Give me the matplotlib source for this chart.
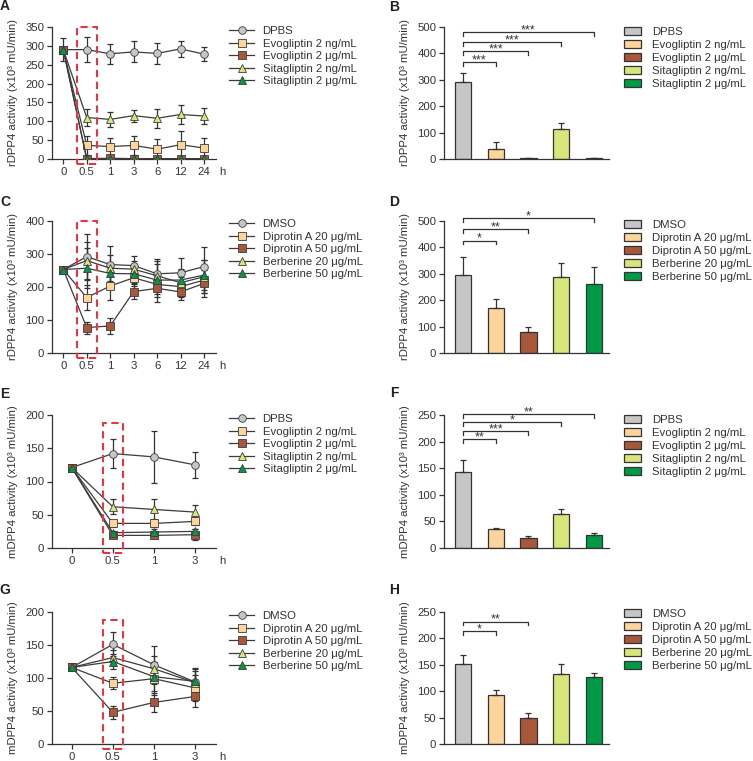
import matplotlib
matplotlib.use('Agg')
import matplotlib.pyplot as plt
from matplotlib.patches import Rectangle

plt.rcParams['font.family'] = ['Liberation Sans', 'DejaVu Sans']
plt.rcParams['font.size'] = 8

# ---- data ----
time_long = ['0', '0.5', '1', '3', '6', '12', '24']
time_short = ['0', '0.5', '1', '3']

inhib_labels = ['DPBS', 'Evogliptin 2 ng/mL', 'Evogliptin 2 μg/mL',
                'Sitagliptin 2 ng/mL', 'Sitagliptin 2 μg/mL']
nat_labels = ['DMSO', 'Diprotin A 20 μg/mL', 'Diprotin A 50 μg/mL',
              'Berberine 20 μg/mL', 'Berberine 50 μg/mL']

# A: rDPP4, inhibitors over 24 h
a_means = [[290, 290, 279, 284, 280, 292, 278],
           [290, 36, 33, 36, 26, 38, 29],
           [290, 1, 2, 1, 1, 1, 1],
           [290, 110, 105, 115, 108, 118, 114],
           [290, 0, 0, 0, 0, 0, 0]]
a_errs = [[30, 33, 26, 28, 28, 22, 19],
          [0, 26, 24, 26, 27, 36, 28],
          [0, 2, 3, 2, 2, 1, 2],
          [0, 23, 19, 16, 25, 25, 20],
          [0, 1, 1, 1, 1, 1, 1]]

# C: rDPP4, natural compounds over 24 h
c_means = [[253, 292, 268, 265, 240, 243, 262],
           [253, 168, 203, 228, 208, 201, 221],
           [253, 77, 82, 186, 196, 185, 211],
           [253, 280, 257, 254, 234, 213, 231],
           [253, 257, 241, 240, 221, 221, 236]]
c_errs = [[8, 70, 57, 29, 45, 44, 58],
          [8, 37, 43, 25, 30, 30, 40],
          [8, 18, 23, 22, 40, 24, 40],
          [8, 55, 40, 25, 45, 40, 50],
          [8, 60, 30, 28, 50, 35, 45]]

# E: mDPP4, inhibitors over 3 h
e_means = [[121, 142, 137, 125],
           [121, 37, 37, 40],
           [121, 19, 19, 20],
           [121, 62, 58, 54],
           [121, 23, 24, 25]]
e_errs = [[3, 22, 39, 20],
          [0, 5, 5, 6],
          [0, 3, 3, 8],
          [0, 11, 15, 11],
          [0, 3, 4, 4]]

# G: mDPP4, natural compounds over 3 h
g_means = [[116, 151, 120, 94],
           [116, 92, 99, 85],
           [116, 48, 63, 72],
           [116, 131, 114, 93],
           [116, 125, 102, 95]]
g_errs = [[3, 18, 29, 20],
          [0, 9, 25, 20],
          [0, 10, 15, 16],
          [0, 12, 20, 18],
          [0, 12, 22, 20]]

# bar panels (0.5 h)
b_means = [293, 36, 3, 113, 2]
b_errs = [33, 28, 2, 22, 1]
d_means = [295, 169, 79, 288, 262]
d_errs = [68, 35, 19, 52, 65]
f_means = [143, 35, 19, 63, 24]
f_errs = [22, 3, 3, 11, 4]
h_means = [151, 93, 49, 133, 127]
h_errs = [18, 10, 10, 19, 7]

# significance brackets: (target bar, height, stars)
b_sig = [(1, 368, '***'), (2, 408, '***'), (3, 443, '***'), (4, 481, '***')]
d_sig = [(1, 426, '*'), (2, 470, '**'), (4, 511, '*')]
f_sig = [(1, 204, '**'), (2, 220, '***'), (3, 236, '*'), (4, 252, '**')]
h_sig = [(1, 214, '*'), (2, 232, '**')]

colors = ['#c6c6c6', '#fdd49c', '#a8573a', '#d8e57b', '#009a47']
markers = ['o', 's', 's', '^', '^']
dark = '#333333'
fs = 8.2

W, H = 753, 761
fig = plt.figure(figsize=(W / 100, H / 100), dpi=100)


def px_axes(x0, x1, ytop, ybot):
    return fig.add_axes([x0 / W, 1 - ybot / H, (x1 - x0) / W, (ybot - ytop) / H])


def style(ax):
    for s in ['top', 'right']:
        ax.spines[s].set_visible(False)
    for s in ['left', 'bottom']:
        ax.spines[s].set_linewidth(0.9)
        ax.spines[s].set_color(dark)
    ax.tick_params(direction='out', length=3.5, width=0.9, color=dark,
                   labelcolor=dark, labelsize=fs, pad=2)


def line_panel(ax, xlabels, means, errs, labels, ymax, ystep, ylabel, rect_top, leg_xy):
    x = list(range(len(xlabels)))
    for i in range(5):
        ax.errorbar(x, means[i], yerr=errs[i], fmt='none', ecolor=dark,
                    elinewidth=0.9, capsize=2.5, capthick=0.9, zorder=2)
    for i in range(5):
        ax.plot(x, means[i], color='#3c3c3c', lw=0.9, marker=markers[i], ms=5.5,
                mfc=colors[i], mec='#3c3c3c', mew=0.6, label=labels[i], zorder=3 + i)
    style(ax)
    n = len(xlabels)
    spacing_px = ax.get_position().width * W / (n - 1 + 0.97)
    ax.set_xlim(-0.48, n - 0.49)
    ax.set_xticks(x)
    ax.set_xticklabels(xlabels)
    ax.set_ylim(0, ymax)
    ax.set_yticks(range(0, ymax + 1, ystep))
    ax.set_ylabel(ylabel, color=dark, fontsize=fs)
    ax.yaxis.set_label_coords(-0.205, 0.5)
    ax.text(1.037, -0.1, 'h', transform=ax.transAxes, ha='center', va='center',
            color=dark, fontsize=fs)
    hw = 10 / spacing_px
    ax.add_patch(Rectangle((1 - hw, -0.04 * ymax), 2 * hw, (rect_top + 0.04) * ymax,
                           fill=False, ec='#e8353f', lw=1.5, ls=(0, (3.5, 2.2)),
                           clip_on=False, zorder=10))
    ax.legend(loc='upper left', bbox_to_anchor=(leg_xy[0] / W, 1 - leg_xy[1] / H),
              bbox_transform=fig.transFigure, frameon=False, borderaxespad=0,
              borderpad=0, handlelength=2.2, handletextpad=0.75, labelspacing=0.22,
              numpoints=1, fontsize=fs, labelcolor=dark)


def bar_panel(ax, means, errs, labels, ymax, ystep, ylabel, sig, leg_xy):
    for i in range(5):
        ax.bar(i, means[i], width=0.5, color=colors[i], edgecolor=dark, linewidth=0.9,
               yerr=[[0], [errs[i]]], capsize=2.5,
               error_kw=dict(ecolor=dark, elinewidth=0.9, capthick=0.9),
               label=labels[i], zorder=2)
    style(ax)
    ax.set_xlim(-0.58, 4.46)
    ax.set_xticks([])
    ax.set_ylim(0, ymax)
    ax.set_yticks(range(0, ymax + 1, ystep))
    ax.set_ylabel(ylabel, color=dark, fontsize=fs)
    ax.yaxis.set_label_coords(-0.209, 0.5)
    drop = 0.03 * ymax
    for t, h, s in sig:
        ax.plot([0, 0, t, t], [h - drop, h, h, h - drop], color=dark, lw=0.9,
                clip_on=False)
        ax.text(t / 2, h - 0.01 * ymax, s, ha='center', va='baseline', color=dark,
                fontsize=9)
    ax.legend(loc='upper left', bbox_to_anchor=(leg_xy[0] / W, 1 - leg_xy[1] / H),
              bbox_transform=fig.transFigure, frameon=False, borderaxespad=0,
              borderpad=0, handlelength=1.5, handleheight=0.75, handletextpad=1.0,
              labelspacing=0.24, fontsize=fs, labelcolor=dark)


r_lab = 'rDPP4 activity (x10³ mU/min)'
m_lab = 'mDPP4 activity (x10³ mU/min)'

axA = px_axes(52, 216, 27, 159)
line_panel(axA, time_long, a_means, a_errs, inhib_labels, 350, 50, r_lab, 1.0, (229, 26))
axB = px_axes(444, 609, 27, 159)
bar_panel(axB, b_means, b_errs, inhib_labels, 500, 100, r_lab, b_sig, (624, 27))

axC = px_axes(52, 216, 221, 353)
line_panel(axC, time_long, c_means, c_errs, nat_labels, 400, 100, r_lab, 1.0, (229, 219))
axD = px_axes(444, 609, 221, 353)
bar_panel(axD, d_means, d_errs, nat_labels, 500, 100, r_lab, d_sig, (624, 220))

axE = px_axes(52, 216, 415, 548)
line_panel(axE, time_short, e_means, e_errs, inhib_labels, 200, 50, m_lab, 0.94, (229, 414))
axF = px_axes(444, 609, 415, 548)
bar_panel(axF, f_means, f_errs, inhib_labels, 250, 50, m_lab, f_sig, (624, 415))

axG = px_axes(52, 216, 612, 744)
line_panel(axG, time_short, g_means, g_errs, nat_labels, 200, 50, m_lab, 0.94, (229, 611))
axH = px_axes(444, 609, 612, 744)
bar_panel(axH, h_means, h_errs, nat_labels, 250, 50, m_lab, h_sig, (624, 609))

for lab, x, y in [('A', 5, 6), ('B', 394, 7), ('C', 5, 202), ('D', 394, 202),
                  ('E', 5, 394), ('F', 394, 393), ('G', 5, 590), ('H', 394, 590)]:
    fig.text(x / W, 1 - y / H, lab, fontsize=10, fontweight='bold', ha='center',
             va='center', color='#222222')

plt.savefig('out.png', dpi=100)
